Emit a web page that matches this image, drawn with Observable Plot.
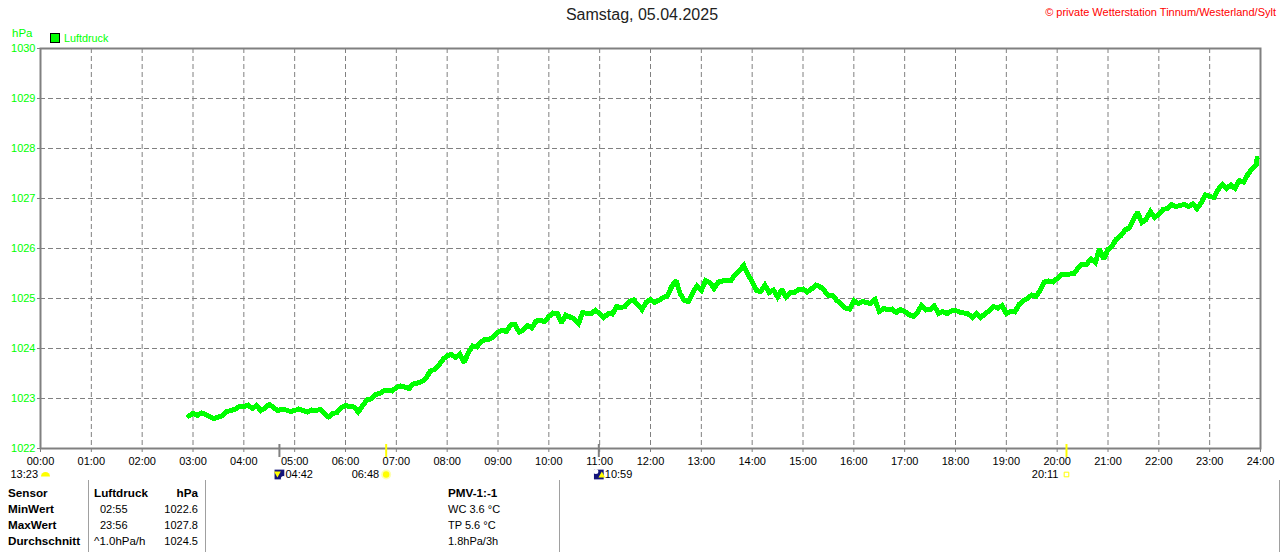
<!DOCTYPE html>
<html lang="de">
<head>
<meta charset="utf-8">
<title>Luftdruck</title>
<script src="https://cdn.jsdelivr.net/npm/d3@7"></script>
<script src="https://cdn.jsdelivr.net/npm/@observablehq/plot@0.6"></script>
<style>
  html, body { margin: 0; padding: 0; background: #fff; }
  body { width: 1280px; height: 552px; overflow: hidden; font-family: "Liberation Sans", Arial, sans-serif; font-size: 11px; }
  #head { position: relative; height: 43px; }
  #foot { position: relative; height: 72px; }
  #chart svg { display: block; }
  .a { position: absolute; white-space: nowrap; line-height: 14px; }
  .b { font-weight: bold; font-size: 11.7px; }
  .v { position: absolute; top: 0; bottom: 0; width: 1px; background: #a0a0a0; }
</style>
</head>
<body>
<div id="head"></div>
<div id="chart"></div>
<div id="foot"></div>
<script>
// Luftdruck in hPa, one reading every five minutes, one list per hour of the day
const hour02 = {55: 1022.65};
const hour03 = [1022.70,1022.66,1022.71,1022.68,1022.63,1022.60,1022.63,1022.66,1022.74,1022.76,1022.79,1022.84];
const hour04 = [1022.84,1022.87,1022.80,1022.86,1022.76,1022.81,1022.88,1022.82,1022.76,1022.79,1022.77,1022.74];
const hour05 = [1022.76,1022.79,1022.76,1022.73,1022.77,1022.76,1022.78,1022.70,1022.63,1022.70,1022.72,1022.82];
const hour06 = [1022.86,1022.84,1022.83,1022.73,1022.85,1022.97,1022.99,1023.08,1023.10,1023.15,1023.17,1023.15];
const hour07 = [1023.22,1023.25,1023.23,1023.20,1023.29,1023.31,1023.34,1023.40,1023.55,1023.58,1023.66,1023.78];
const hour08 = [1023.86,1023.88,1023.82,1023.89,1023.72,1023.92,1024.05,1024.03,1024.13,1024.19,1024.19,1024.24];
const hour09 = [1024.33,1024.36,1024.34,1024.47,1024.48,1024.33,1024.37,1024.46,1024.41,1024.55,1024.56,1024.54];
const hour10 = [1024.64,1024.71,1024.70,1024.52,1024.67,1024.63,1024.59,1024.50,1024.72,1024.70,1024.70,1024.76];
const hour11 = [1024.70,1024.62,1024.70,1024.69,1024.84,1024.82,1024.84,1024.94,1024.97,1024.88,1024.78,1024.93];
const hour12 = [1024.98,1024.92,1024.96,1025.02,1025.05,1025.24,1025.36,1025.10,1024.96,1024.94,1025.12,1025.25];
const hour13 = [1025.16,1025.36,1025.32,1025.20,1025.33,1025.35,1025.36,1025.36,1025.48,1025.56,1025.66,1025.48];
const hour14 = [1025.34,1025.16,1025.14,1025.27,1025.12,1025.17,1025.03,1025.18,1025.03,1025.12,1025.12,1025.18];
const hour15 = [1025.19,1025.13,1025.19,1025.27,1025.24,1025.16,1025.06,1025.06,1024.96,1024.89,1024.81,1024.79];
const hour16 = [1024.96,1024.90,1024.94,1024.92,1024.90,1024.98,1024.74,1024.80,1024.78,1024.79,1024.72,1024.78];
const hour17 = [1024.74,1024.68,1024.64,1024.72,1024.86,1024.77,1024.78,1024.85,1024.70,1024.74,1024.70,1024.75];
const hour18 = [1024.76,1024.73,1024.71,1024.69,1024.62,1024.70,1024.62,1024.70,1024.75,1024.84,1024.81,1024.86];
const hour19 = [1024.70,1024.74,1024.73,1024.88,1024.96,1025.00,1025.07,1025.04,1025.16,1025.33,1025.35,1025.33];
const hour20 = [1025.40,1025.48,1025.49,1025.49,1025.50,1025.62,1025.69,1025.69,1025.79,1025.72,1025.99,1025.78];
const hour21 = [1025.98,1026.06,1026.19,1026.25,1026.37,1026.41,1026.58,1026.72,1026.52,1026.58,1026.74,1026.62];
const hour22 = [1026.68,1026.78,1026.80,1026.88,1026.84,1026.86,1026.88,1026.84,1026.89,1026.80,1026.91,1027.07];
const hour23 = [1027.04,1027.02,1027.18,1027.28,1027.20,1027.27,1027.20,1027.36,1027.33,1027.48,1027.59,1027.68];
const lastReading = {minute: 1436, value: 1027.80};

const hourLists = [[3,hour03],[4,hour04],[5,hour05],[6,hour06],[7,hour07],[8,hour08],[9,hour09],[10,hour10],[11,hour11],[12,hour12],[13,hour13],[14,hour14],[15,hour15],[16,hour16],[17,hour17],[18,hour18],[19,hour19],[20,hour20],[21,hour21],[22,hour22],[23,hour23]];

const readings = [{t: 2 + 55/60, v: hour02[55]}];
for (const [h, list] of hourLists) list.forEach((v, i) => readings.push({t: h + i * 5 / 60, v}));
readings.push({t: lastReading.minute / 60, v: lastReading.value});

const hourTicks = d3.range(0, 25);
const pressureTicks = d3.range(1022, 1031);
const hhmm = h => String(h).padStart(2, "0") + ":00";

// Sun and moon events drawn under the axis
const moonRise = {label: "13:23", t: 0};
const moonEvents = [{label: "04:42", t: 4 + 42/60, kind: "set"}, {label: "10:59", t: 10 + 59/60, kind: "rise"}];
const sunRise = {label: "06:48", t: 6 + 48/60};
const sunSet = {label: "20:11", t: 20 + 11/60};
const eventRowY = 1021.48;

const GREEN = "#00ff00", GRAY = "#808080", YELLOW = "#ffff00", NAVY = "#14147a";
const halfDisc = {draw(ctx, size) { const r = Math.sqrt(size / Math.PI); ctx.arc(0, 0, r, Math.PI, 0); ctx.closePath(); }};

const row = o => ({y: eventRowY, ...o});
const chart = Plot.plot({
  width: 1280,
  height: 437,
  marginLeft: 40,
  marginRight: 20,
  marginTop: 5,
  marginBottom: 32,
  style: {background: "#fff", fontFamily: "'Liberation Sans', Arial, sans-serif", overflow: "visible"},
  x: {domain: [0, 24], axis: null},
  y: {domain: [1022, 1030], axis: null},
  marks: [
    Plot.gridX(hourTicks.slice(1, -1), {stroke: GRAY, strokeOpacity: 1, strokeWidth: 1, strokeDasharray: "5 3"}),
    Plot.gridY(pressureTicks.slice(1, -1), {stroke: GRAY, strokeOpacity: 1, strokeWidth: 1, strokeDasharray: "5 3"}),
    Plot.axisX({ticks: hourTicks, tickFormat: hhmm, tickSize: 4, tickPadding: 5, stroke: GRAY, fill: "#000", fontSize: 11, label: null, anchor: "bottom"}),
    Plot.axisY({ticks: pressureTicks, tickFormat: d => String(d), tickSize: 3, tickPadding: 2, stroke: GRAY, fill: GREEN, fontSize: 11, label: null, anchor: "left"}),
    Plot.frame({stroke: GRAY, strokeWidth: 2}),
    Plot.line(readings, {x: "t", y: "v", stroke: GREEN, strokeWidth: 5, curve: "linear", strokeLinejoin: "miter", strokeMiterlimit: 2, shapeRendering: "crispEdges"}),
    // event ticks across the axis
    Plot.ruleX(moonEvents, {x: "t", y1: 1022.08, y2: 1021.82, stroke: GRAY, strokeWidth: 2}),
    Plot.ruleX([sunRise, sunSet], {x: "t", y1: 1022.08, y2: 1021.82, stroke: YELLOW, strokeWidth: 2}),
    // moon icons
    Plot.dot(moonEvents, row({x: "t", symbol: "square", r: 5.5, fill: NAVY, stroke: "none"})),
    Plot.dot(moonEvents.filter(d => d.kind === "set"), row({x: "t", symbol: "circle", r: 2.5, fill: "#fff", dx: 4, dy: 4})),
    Plot.dot(moonEvents.filter(d => d.kind === "set"), row({x: "t", symbol: "triangle", r: 2.5, fill: YELLOW, dx: -2, dy: -1, rotate: 180})),
    Plot.dot(moonEvents.filter(d => d.kind === "rise"), row({x: "t", symbol: "circle", r: 2.5, fill: "#fff", dx: -3, dy: -3})),
    Plot.dot(moonEvents.filter(d => d.kind === "rise"), row({x: "t", symbol: "triangle", r: 2.5, fill: YELLOW, dx: 3, dy: 1})),
    Plot.text(moonEvents, row({x: "t", text: "label", textAnchor: "start", dx: 6, fontSize: 11, fill: "#000"})),
    // moon rise left label
    Plot.text([moonRise], row({x: "t", text: "label", textAnchor: "start", dx: -30, fontSize: 11, fill: "#000"})),
    Plot.dot([moonRise], row({x: "t", symbol: halfDisc, r: 4.5, fill: YELLOW, dx: 5, dy: 2})),
    // sun icons
    Plot.dot([sunRise], row({x: "t", symbol: "circle", r: 5, fill: "#ffffb0"})),
    Plot.dot([sunRise], row({x: "t", symbol: "circle", r: 3.2, fill: YELLOW})),
    Plot.text([sunRise], row({x: "t", text: "label", textAnchor: "end", dx: -7, fontSize: 11, fill: "#000"})),
    Plot.dot([sunSet], row({x: "t", symbol: "square", r: 2.6, fill: "#fff", stroke: YELLOW, strokeWidth: 1})),
    Plot.text([sunSet], row({x: "t", text: "label", textAnchor: "end", dx: -8, fontSize: 11, fill: "#000"}))
  ]
});
document.getElementById("chart").append(chart);

// Header
const title = "Samstag, 05.04.2025";
const copyright = "© private Wetterstation Tinnum/Westerland/Sylt";
const unit = "hPa";
const seriesName = "Luftdruck";
document.getElementById("head").innerHTML = `
  <div class="a" style="left:0;width:1284px;text-align:center;top:7px;font-size:16px;line-height:16px;color:#222">${title}</div>
  <div class="a" style="right:4px;top:5px;font-size:11px;color:#ff0000">${copyright}</div>
  <div class="a" style="left:12px;top:26px;font-size:11.5px;color:${GREEN}">${unit}</div>
  <div class="a" style="left:50px;top:33px;width:8px;height:8px;background:${GREEN};border:1px solid #000"></div>
  <div class="a" style="left:64px;top:31px;font-size:10.8px;color:${GREEN}">${seriesName}</div>`;

// Summary table
const sensorRows = ["MinWert", "MaxWert", "Durchschnitt"];
const timeCol = ["02:55", "23:56", "^1.0hPa/h"];
const valueCol = ["1022.6", "1027.8", "1024.5"];
const pmvRows = ["WC 3.6 °C", "TP 5.6 °C", "1.8hPa/3h"];
const rowTops = [6, 22, 38, 54];
let foot = `
  <div class="v" style="left:88px"></div><div class="v" style="left:205px"></div><div class="v" style="left:559px"></div><div class="v" style="left:1279px"></div>
  <div class="a b" style="left:8px;top:${rowTops[0]}px">Sensor</div>
  <div class="a b" style="left:94px;top:${rowTops[0]}px">Luftdruck</div>
  <div class="a b" style="right:1082px;top:${rowTops[0]}px">hPa</div>
  <div class="a b" style="left:448px;top:${rowTops[0]}px">PMV-1:-1</div>`;
sensorRows.forEach((s, i) => {
  foot += `<div class="a b" style="left:8px;top:${rowTops[i+1]}px">${s}</div>
  <div class="a" style="left:${i === 2 ? 94 : 100}px;top:${rowTops[i+1]}px;${i === 2 ? "font-size:11.5px" : ""}">${timeCol[i]}</div>
  <div class="a" style="right:1082px;top:${rowTops[i+1]}px">${valueCol[i]}</div>
  <div class="a" style="left:448px;top:${rowTops[i+1]}px">${pmvRows[i]}</div>`;
});
document.getElementById("foot").innerHTML = foot;
</script>
</body>
</html>
